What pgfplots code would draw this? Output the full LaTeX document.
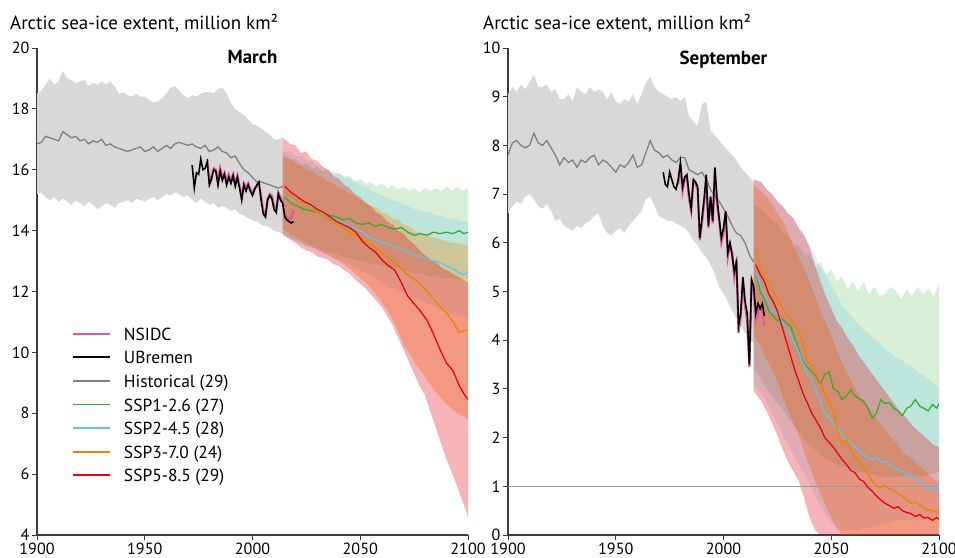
\documentclass[border=0pt]{standalone}
\usepackage{pgfplots}
\pgfplotsset{compat=1.18}
\usepackage{pgfplotstable}
\usepgfplotslibrary{fillbetween}
\usepackage{fontspec}
\setmainfont{PT Sans}

\definecolor{bandgray}{RGB}{217,216,215}
\definecolor{histgray}{RGB}{128,128,128}
\definecolor{obspink}{RGB}{226,88,160}
\definecolor{sspA}{RGB}{58,170,53}
\definecolor{sspB}{RGB}{91,197,239}
\definecolor{sspC}{RGB}{240,130,0}
\definecolor{sspD}{RGB}{227,6,19}
\definecolor{axisgray}{RGB}{60,60,60}

\newcommand{\tickfont}{\fontsize{16.2}{19}\selectfont}
\newcommand{\headfont}{\fontsize{19}{22}\selectfont}
\newcommand{\legfont}{\fontsize{17.5}{21}\selectfont}

% ---------------- March ----------------
\pgfplotstableread{
yr mean lo hi
1900 16.85 15.2 18.5
1902 16.9 15.25 18.6
1904 17.1 15.1 18.8
1906 17.05 15.0 19.0
1908 17.0 15.1 18.8
1910 16.95 14.95 18.9
1912 17.25 15.05 19.25
1914 17.15 14.95 19.0
1916 17.05 14.85 18.95
1918 17.1 15.0 18.85
1920 16.95 14.9 18.9
1922 17.0 14.8 18.95
1924 16.85 14.95 18.75
1926 16.95 14.85 18.85
1928 16.9 14.7 18.8
1930 17.0 14.8 18.9
1932 16.8 14.9 18.8
1934 16.85 14.85 18.9
1936 16.75 14.75 18.75
1938 16.7 14.9 18.5
1940 16.65 14.95 18.55
1942 16.6 15.0 18.45
1944 16.65 14.9 18.4
1946 16.7 15.05 18.5
1948 16.75 15.0 18.4
1950 16.6 14.95 18.4
1952 16.65 15.05 18.3
1954 16.75 15.1 18.2
1956 16.6 15.0 18.25
1958 16.7 15.1 18.35
1960 16.8 15.2 18.5
1962 16.7 15.15 18.7
1964 16.85 15.25 18.75
1966 16.9 15.2 18.6
1968 16.85 15.1 18.45
1970 16.8 15.15 18.35
1972 16.85 15.0 18.45
1974 16.75 14.9 18.4
1976 16.7 15.05 18.5
1978 16.8 14.95 18.55
1980 16.6 14.85 18.55
1982 16.65 14.9 18.5
1984 16.75 14.75 18.65
1986 16.6 14.8 18.7
1988 16.55 14.75 18.5
1990 16.4 14.65 18.2
1992 16.45 14.7 18.0
1994 16.2 14.55 17.9
1996 16.0 14.5 17.8
1998 15.9 14.4 17.65
2000 15.75 14.35 17.5
2002 15.6 14.3 17.45
2004 15.6 14.2 17.35
2006 15.55 14.15 17.25
2008 15.5 14.1 17.15
2010 15.45 14.0 17.0
2012 15.4 13.95 17.0
2014 15.45 13.9 17.05
}\histM

\pgfplotstableread{
yr val
1972 16.15
1973 15.4
1974 15.9
1975 15.85
1976 16.35
1977 16.0
1978 16.05
1979 16.25
1980 15.5
1981 15.7
1982 16.0
1983 15.95
1984 15.5
1985 15.95
1986 15.65
1987 15.85
1988 15.5
1989 15.75
1990 15.55
1991 15.8
1992 15.45
1993 15.75
1994 15.4
1995 15.0
1996 15.5
1997 15.3
1998 15.5
1999 15.3
2000 15.15
2001 15.35
2002 15.5
2003 15.6
2004 15.0
2005 14.55
2006 14.45
2007 15.0
2008 15.15
2009 15.05
2010 14.7
2011 14.6
2012 15.2
2013 15.0
2014 14.9
2015 14.45
2016 14.35
2017 14.3
2018 14.25
2019 14.3
}\bremM

\pgfplotstableread{
yr val
1979 16.35
1980 15.6
1981 15.8
1982 16.05
1983 16.0
1984 15.6
1985 16.05
1986 15.75
1987 15.9
1988 15.6
1989 15.85
1990 15.65
1991 15.85
1992 15.55
1993 15.8
1994 15.45
1995 15.1
1996 15.55
1997 15.4
1998 15.55
1999 15.35
2000 15.25
2001 15.4
2002 15.45
2003 15.5
2004 15.1
2005 14.65
2006 14.5
2007 15.05
2008 15.2
2009 15.15
2010 14.8
2011 14.65
2012 15.25
2013 15.1
2014 14.95
2015 14.5
2016 14.45
2017 14.4
2018 14.4
2019 14.7
}\nsidcM

\pgfplotstableread{
yr s126 s245 s370 s585
2015 15.1 15.2 15.2 15.45
2018 14.9 15.05 15.1 15.25
2021 14.8 14.95 14.95 15.1
2024 14.7 14.85 14.85 14.95
2027 14.65 14.8 14.75 14.85
2030 14.6 14.7 14.6 14.7
2033 14.55 14.55 14.5 14.6
2036 14.5 14.45 14.35 14.45
2039 14.45 14.35 14.2 14.3
2042 14.35 14.25 14.1 14.2
2045 14.4 14.15 13.95 14.1
2048 14.25 14.05 13.85 13.95
2051 14.2 13.95 13.7 13.65
2054 14.25 13.8 13.6 13.45
2057 14.15 13.7 13.45 13.3
2060 14.2 13.6 13.25 13.05
2063 14.1 13.55 13.1 12.85
2066 14.05 13.45 12.95 12.7
2069 14.1 13.4 12.75 12.3
2072 13.95 13.3 12.55 11.85
2075 13.85 13.2 12.4 11.6
2078 13.9 13.15 12.25 11.35
2081 13.85 13.05 12.0 11.05
2084 13.95 13.0 11.75 10.6
2087 13.9 12.95 11.5 10.1
2090 13.95 12.85 11.3 9.65
2093 13.9 12.75 11.0 9.4
2096 14.0 12.6 10.65 8.9
2098 13.9 12.55 10.7 8.65
2100 13.95 12.65 10.75 8.45
}\scenM

\pgfplotstableread{
yr lo126 hi126 lo245 hi245 lo370 hi370 lo585 hi585
2014 13.8 16.5 13.9 16.6 14.05 16.4 13.9 17.05
2017.5 13.75 16.35 13.8 16.6 13.9 16.35 13.7 16.85
2020 13.65 16.35 13.7 16.45 13.8 16.2 13.6 16.8
2022.5 13.6 16.15 13.6 16.45 13.7 16.15 13.45 16.55
2025 13.5 16.2 13.5 16.3 13.6 16.0 13.35 16.6
2027.5 13.45 16.05 13.45 16.3 13.5 15.95 13.3 16.35
2030 13.4 16.1 13.35 16.15 13.4 15.8 13.15 16.3
2032.5 13.35 15.95 13.25 16.1 13.3 15.75 13.1 16.1
2035 13.3 16.0 13.2 16.0 13.2 15.6 13.05 16.0
2037.5 13.25 15.85 13.1 15.95 13.1 15.55 12.9 15.8
2040 13.2 15.9 13.05 15.85 13.0 15.4 12.85 15.7
2042.5 13.15 15.75 12.95 15.8 12.9 15.35 12.7 15.5
2045 13.1 15.8 12.9 15.7 12.75 15.2 12.6 15.4
2047.5 13.05 15.6 12.8 15.65 12.6 15.15 12.4 15.2
2050 13.0 15.7 12.7 15.5 12.45 15.0 12.25 15.1
2052.5 12.95 15.55 12.6 15.45 12.3 14.95 12.1 14.9
2055 12.9 15.6 12.5 15.3 12.1 14.8 11.9 14.8
2057.5 12.9 15.45 12.4 15.25 11.9 14.75 11.7 14.6
2060 12.85 15.55 12.3 15.15 11.65 14.6 11.5 14.5
2062.5 12.8 15.4 12.2 15.1 11.4 14.55 11.2 14.3
2065 12.8 15.5 12.1 15.0 11.1 14.4 10.9 14.2
2067.5 12.75 15.35 12.0 14.95 10.7 14.35 10.5 14.0
2070 12.7 15.45 11.95 14.85 10.3 14.2 10.1 13.9
2072.5 12.65 15.3 11.85 14.8 10.0 14.15 9.7 13.7
2075 12.6 15.4 11.8 14.7 9.7 14.0 9.3 13.55
2077.5 12.6 15.25 11.7 14.7 9.45 13.95 8.9 13.35
2080 12.55 15.4 11.65 14.6 9.2 13.85 8.6 13.2
2082.5 12.5 15.3 11.55 14.6 8.95 13.8 8.05 13.05
2085 12.5 15.4 11.5 14.5 8.7 13.75 7.55 12.95
2087.5 12.45 15.3 11.4 14.5 8.5 13.7 7.0 12.8
2090 12.45 15.45 11.35 14.4 8.3 13.65 6.5 12.7
2092.5 12.4 15.3 11.25 14.4 8.15 13.6 6.05 12.6
2095 12.4 15.45 11.2 14.35 8.0 13.6 5.6 12.5
2097.5 12.4 15.3 11.15 14.3 7.9 13.55 5.1 12.4
2100 12.4 15.4 11.1 14.3 7.8 13.5 4.6 12.3
}\bandM

% ---------------- September ----------------
\pgfplotstableread{
yr mean lo hi
1900 7.8 6.6 9.05
1902 8.05 6.75 9.2
1904 8.1 6.85 9.1
1906 8.0 6.8 9.25
1908 7.95 6.95 9.15
1910 8.0 7.0 9.3
1912 8.25 6.9 9.45
1914 8.05 6.75 9.2
1916 8.0 6.7 9.2
1918 8.1 6.8 9.25
1920 7.95 6.65 9.1
1922 7.8 6.45 9.15
1924 7.6 6.5 8.95
1926 7.75 6.35 8.95
1928 7.65 6.3 9.05
1930 7.7 6.25 8.9
1932 7.55 6.35 9.2
1934 7.7 6.3 9.1
1936 7.65 6.4 9.05
1938 7.75 6.45 9.2
1940 7.8 6.55 9.1
1942 7.6 6.6 9.15
1944 7.7 6.35 9.1
1946 7.65 6.2 8.95
1948 7.55 6.15 9.1
1950 7.45 6.25 8.9
1952 7.6 6.3 8.85
1954 7.55 6.2 8.95
1956 7.65 6.35 8.9
1958 7.8 6.45 9.05
1960 7.55 6.55 8.85
1962 7.6 6.65 9.05
1964 7.85 6.9 9.3
1966 8.1 6.95 9.4
1968 7.9 6.75 9.2
1970 7.85 6.55 9.1
1972 7.75 6.5 9.05
1974 7.8 6.45 9.0
1976 7.7 6.45 8.95
1978 7.65 6.4 9.0
1980 7.75 6.35 8.9
1982 7.75 6.3 9.0
1984 7.5 6.2 8.6
1986 7.45 6.05 8.5
1988 7.4 5.95 8.4
1990 7.45 5.8 8.85
1992 7.3 5.7 8.9
1994 7.1 5.55 8.3
1996 6.95 5.35 8.2
1998 6.85 5.1 8.1
2000 6.7 4.95 8.0
2002 6.55 4.8 7.9
2004 6.35 4.6 7.8
2006 6.2 4.45 7.7
2008 6.15 4.3 7.55
2010 6.0 4.15 7.45
2012 5.75 4.0 7.35
2014 5.6 3.95 7.25
}\histS

\pgfplotstableread{
yr val
1972 7.45
1973 7.2
1974 7.15
1975 7.45
1976 7.3
1977 7.15
1978 7.1
1979 7.3
1980 7.65
1981 7.15
1982 7.35
1983 7.4
1984 7.0
1985 6.7
1986 7.3
1987 7.25
1988 7.15
1989 6.1
1990 6.5
1991 6.9
1992 7.4
1993 6.35
1994 6.95
1995 6.45
1996 7.55
1997 6.9
1998 6.5
1999 6.1
2000 6.3
2001 6.65
2002 5.8
2003 6.0
2004 5.75
2005 5.4
2006 5.6
2007 4.3
2008 4.55
2009 5.3
2010 4.8
2011 4.55
2012 3.5
2013 5.25
2014 5.1
2015 4.55
2016 4.75
2017 4.65
2018 4.75
2019 4.5
}\bremS

\pgfplotstableread{
yr val
1979 7.2
1980 7.6
1981 7.05
1982 7.3
1983 7.35
1984 6.9
1985 6.65
1986 7.25
1987 7.2
1988 7.1
1989 6.05
1990 6.4
1991 6.8
1992 7.35
1993 6.3
1994 6.9
1995 6.4
1996 7.45
1997 6.8
1998 6.45
1999 6.0
2000 6.2
2001 6.6
2002 5.7
2003 5.95
2004 5.8
2005 5.3
2006 5.65
2007 4.15
2008 4.5
2009 5.2
2010 4.7
2011 4.4
2012 3.45
2013 5.1
2014 5.05
2015 4.4
2016 4.55
2017 4.65
2018 4.6
2019 4.3
}\nsidcS

\pgfplotstableread{
yr s126 s245 s370 s585
2015 5.4 5.4 5.8 5.55
2017 5.0 5.15 5.5 5.35
2019 4.85 4.95 5.3 5.2
2021 4.6 4.75 5.15 4.95
2023 4.5 4.6 5.0 4.8
2025 4.4 4.55 4.85 4.6
2027 4.45 4.4 4.7 4.3
2029 4.35 4.25 4.55 4.0
2031 4.3 4.1 4.45 3.7
2033 4.05 3.95 4.3 3.4
2035 3.8 3.75 4.2 3.15
2037 3.55 3.5 3.9 2.9
2039 3.45 3.3 3.55 2.7
2041 3.35 3.2 3.5 2.5
2043 3.25 2.95 3.3 2.35
2045 3.1 2.75 3.1 2.2
2047 3.3 2.5 2.9 2.0
2049 3.35 2.4 2.75 1.9
2051 3.0 2.3 2.55 1.8
2053 2.95 2.2 2.1 1.68
2055 2.78 2.05 1.88 1.55
2057 2.85 1.95 1.95 1.45
2059 2.98 1.88 1.75 1.33
2061 2.85 1.8 1.6 1.28
2063 2.8 1.75 1.5 1.15
2065 2.75 1.65 1.4 1.1
2067 2.6 1.6 1.25 0.98
2069 2.4 1.55 1.1 0.9
2071 2.5 1.6 1.0 0.8
2073 2.78 1.5 0.98 0.72
2075 2.7 1.52 1.02 0.65
2077 2.72 1.45 0.95 0.6
2079 2.6 1.38 0.92 0.55
2081 2.55 1.35 0.85 0.58
2083 2.45 1.3 0.8 0.5
2085 2.6 1.2 0.72 0.46
2087 2.65 1.25 0.65 0.44
2089 2.78 1.15 0.68 0.38
2091 2.65 1.08 0.62 0.42
2093 2.6 1.05 0.55 0.35
2095 2.55 0.95 0.52 0.36
2097 2.68 0.98 0.5 0.3
2099 2.6 0.9 0.48 0.36
2100 2.7 1.1 0.44 0.32
}\scenS

\pgfplotstableread{
yr lo126 hi126 lo245 hi245 lo370 hi370 lo585 hi585
2014 3.4 6.8 3.1 7.3 4.1 7.2 2.95 7.3
2017.5 3.2 6.7 2.9 7.25 3.85 7.05 2.75 7.25
2020 3.0 6.6 2.75 7.1 3.6 6.95 2.55 7.1
2022.5 2.85 6.45 2.5 7.0 3.4 6.8 2.3 7.0
2025 2.7 6.4 2.3 6.85 3.15 6.6 2.05 6.85
2027.5 2.55 6.2 2.05 6.75 2.85 6.45 1.75 6.75
2030 2.4 6.15 1.85 6.6 2.55 6.2 1.5 6.6
2032.5 2.25 5.95 1.65 6.5 2.3 5.95 1.3 6.5
2035 2.1 5.95 1.45 6.3 2.05 5.7 1.1 6.3
2037.5 1.95 5.75 1.25 6.15 1.7 5.45 0.75 6.15
2040 1.85 5.75 1.05 5.95 1.4 5.2 0.35 5.9
2042.5 1.75 5.5 0.8 5.75 1.1 4.9 0.1 5.55
2045 1.65 5.6 0.6 5.5 0.85 4.6 0.0 5.2
2047.5 1.55 5.35 0.4 5.35 0.6 4.35 0.0 4.9
2050 1.5 5.45 0.25 5.1 0.35 4.1 0.0 4.65
2052.5 1.45 5.2 0.15 4.95 0.15 3.8 0.0 4.4
2055 1.4 5.3 0.1 4.7 0.0 3.55 0.0 4.25
2057.5 1.4 5.05 0.1 4.6 0.0 3.3 0.0 4.05
2060 1.35 5.2 0.1 4.45 0.0 3.1 0.0 3.9
2062.5 1.3 5.0 0.1 4.35 0.0 2.9 0.0 3.7
2065 1.3 5.2 0.15 4.2 0.0 2.75 0.0 3.55
2067.5 1.25 4.95 0.15 4.15 0.0 2.6 0.0 3.4
2070 1.25 5.1 0.2 4.0 0.0 2.45 0.0 3.25
2072.5 1.2 4.9 0.2 3.95 0.0 2.3 0.0 3.1
2075 1.2 4.95 0.25 3.8 0.0 2.15 0.0 2.95
2077.5 1.2 5.1 0.25 3.75 0.0 2.0 0.0 2.8
2080 1.2 5.0 0.3 3.65 0.0 1.9 0.0 2.65
2082.5 1.2 4.85 0.3 3.6 0.0 1.75 0.0 2.5
2085 1.2 5.05 0.3 3.5 0.0 1.65 0.0 2.4
2087.5 1.2 4.9 0.3 3.45 0.0 1.55 0.0 2.25
2090 1.2 5.1 0.3 3.35 0.0 1.45 0.0 2.15
2092.5 1.2 4.95 0.3 3.3 0.0 1.35 0.0 2.05
2095 1.25 5.05 0.3 3.2 0.0 1.25 0.0 1.95
2097.5 1.25 4.9 0.3 3.1 0.0 1.15 0.0 1.85
2100 1.3 5.15 0.3 3.05 0.0 1.05 0.0 1.8
}\bandS

\pgfplotsset{
  icepanel/.style={
    scale only axis, width=431bp, height=487bp,
    axis lines*=left,
    axis line style={-, draw=axisgray, line width=1.1pt},
    tick style={draw=axisgray, line width=0.9pt},
    tick align=outside, major tick length=5bp,
    xmin=1900, xmax=2100, xtick={1900,1950,2000,2050,2100},
    /pgf/number format/assume math mode=true,
    tick label style={font=\tickfont, text=black, inner ysep=1bp},
    xticklabel style={/pgf/number format/1000 sep={}, yshift=-1.9bp},
    yticklabel style={xshift=1bp},
    title style={at={(0.5,1)}, anchor=north, yshift=-5bp, font=\headfont\bfseries},
  },
  band/.style={draw=none, fill=#1, forget plot},
  edge/.style={draw=none, forget plot},
  mline/.style={#1, line width=1.3pt, forget plot},
}

\begin{document}
\begin{tikzpicture}

\node[anchor=base west, inner sep=0pt, font=\headfont] at (10bp,528.5bp) {Arctic sea-ice extent, million km²};
\node[anchor=base west, inner sep=0pt, font=\headfont] at (483bp,528.5bp) {Arctic sea-ice extent, million km²};

% ---------- March panel ----------
\begin{axis}[icepanel, at={(37bp,23bp)}, anchor=south west,
  ymin=4, ymax=20, ytick={4,6,...,20},
  title={March},
  legend style={draw=none, fill=none, at={(0.0812,0.427)}, anchor=north west,
    inner sep=0pt, font=\legfont, row sep=10.6bp, column sep=13bp,
    nodes={inner sep=0pt, text height=13bp, text depth=0bp}},
  legend cell align=left,
]
\addlegendimage{legend image code/.code={\draw[obspink, line width=1.8pt] (0bp,0bp) -- (37bp,0bp);}}
\addlegendentry{NSIDC}
\addlegendimage{legend image code/.code={\draw[black, line width=1.8pt] (0bp,0bp) -- (37bp,0bp);}}
\addlegendentry{UBremen}
\addlegendimage{legend image code/.code={\draw[histgray, line width=1.8pt] (0bp,0bp) -- (37bp,0bp);}}
\addlegendentry{Historical (29)}
\addlegendimage{legend image code/.code={\draw[sspA, line width=1.8pt] (0bp,0bp) -- (37bp,0bp);}}
\addlegendentry{SSP1-2.6 (27)}
\addlegendimage{legend image code/.code={\draw[sspB, line width=1.8pt] (0bp,0bp) -- (37bp,0bp);}}
\addlegendentry{SSP2-4.5 (28)}
\addlegendimage{legend image code/.code={\draw[sspC, line width=1.8pt] (0bp,0bp) -- (37bp,0bp);}}
\addlegendentry{SSP3-7.0 (24)}
\addlegendimage{legend image code/.code={\draw[sspD, line width=1.8pt] (0bp,0bp) -- (37bp,0bp);}}
\addlegendentry{SSP5-8.5 (29)}

% historical spread
\addplot[edge, name path=mHhi] table[x=yr, y=hi]{\histM};
\addplot[edge, name path=mHlo] table[x=yr, y=lo]{\histM};
\addplot[band=bandgray] fill between[of=mHhi and mHlo];
% scenario spreads
\addplot[edge, name path=mAhi] table[x=yr, y=hi126]{\bandM};
\addplot[edge, name path=mAlo] table[x=yr, y=lo126]{\bandM};
\addplot[band=sspA, fill opacity=0.2] fill between[of=mAhi and mAlo];
\addplot[edge, name path=mBhi] table[x=yr, y=hi245]{\bandM};
\addplot[edge, name path=mBlo] table[x=yr, y=lo245]{\bandM};
\addplot[band=sspB, fill opacity=0.2] fill between[of=mBhi and mBlo];
\addplot[edge, name path=mChi] table[x=yr, y=hi370]{\bandM};
\addplot[edge, name path=mClo] table[x=yr, y=lo370]{\bandM};
\addplot[band=sspC, fill opacity=0.3] fill between[of=mChi and mClo];
\addplot[edge, name path=mDhi] table[x=yr, y=hi585]{\bandM};
\addplot[edge, name path=mDlo] table[x=yr, y=lo585]{\bandM};
\addplot[band=sspD, fill opacity=0.3] fill between[of=mDhi and mDlo];
% multi-model means
\addplot[mline=histgray] table[x=yr, y=mean]{\histM};
\addplot[mline=sspA] table[x=yr, y=s126]{\scenM};
\addplot[mline=sspB] table[x=yr, y=s245]{\scenM};
\addplot[mline=sspC] table[x=yr, y=s370]{\scenM};
\addplot[mline=sspD] table[x=yr, y=s585]{\scenM};
% observations
\addplot[obspink, line width=2.2pt, forget plot] table[x=yr, y=val]{\nsidcM};
\addplot[black, line width=1.6pt, forget plot] table[x=yr, y=val]{\bremM};
\end{axis}

% ---------- September panel ----------
\begin{axis}[icepanel, at={(508bp,23bp)}, anchor=south west,
  ymin=0, ymax=10, ytick={0,1,...,10},
  title={September},
]
\addplot[edge, name path=sHhi] table[x=yr, y=hi]{\histS};
\addplot[edge, name path=sHlo] table[x=yr, y=lo]{\histS};
\addplot[band=bandgray] fill between[of=sHhi and sHlo];
\addplot[edge, name path=sAhi] table[x=yr, y=hi126]{\bandS};
\addplot[edge, name path=sAlo] table[x=yr, y=lo126]{\bandS};
\addplot[band=sspA, fill opacity=0.2] fill between[of=sAhi and sAlo];
\addplot[edge, name path=sBhi] table[x=yr, y=hi245]{\bandS};
\addplot[edge, name path=sBlo] table[x=yr, y=lo245]{\bandS};
\addplot[band=sspB, fill opacity=0.2] fill between[of=sBhi and sBlo];
\addplot[edge, name path=sChi] table[x=yr, y=hi370]{\bandS};
\addplot[edge, name path=sClo] table[x=yr, y=lo370]{\bandS};
\addplot[band=sspC, fill opacity=0.3] fill between[of=sChi and sClo];
\addplot[edge, name path=sDhi] table[x=yr, y=hi585]{\bandS};
\addplot[edge, name path=sDlo] table[x=yr, y=lo585]{\bandS};
\addplot[band=sspD, fill opacity=0.3] fill between[of=sDhi and sDlo];
% 1 million km2 reference level
\addplot[histgray!80, line width=0.8pt, forget plot] coordinates {(1900,1) (2100,1)};
\addplot[mline=histgray] table[x=yr, y=mean]{\histS};
\addplot[mline=sspA] table[x=yr, y=s126]{\scenS};
\addplot[mline=sspB] table[x=yr, y=s245]{\scenS};
\addplot[mline=sspC] table[x=yr, y=s370]{\scenS};
\addplot[mline=sspD] table[x=yr, y=s585]{\scenS};
\addplot[obspink, line width=2.2pt, forget plot] table[x=yr, y=val]{\nsidcS};
\addplot[black, line width=1.6pt, forget plot] table[x=yr, y=val]{\bremS};
\end{axis}

\pgfresetboundingbox
\useasboundingbox (0,0) rectangle (955bp,558bp);
\end{tikzpicture}
\end{document}
